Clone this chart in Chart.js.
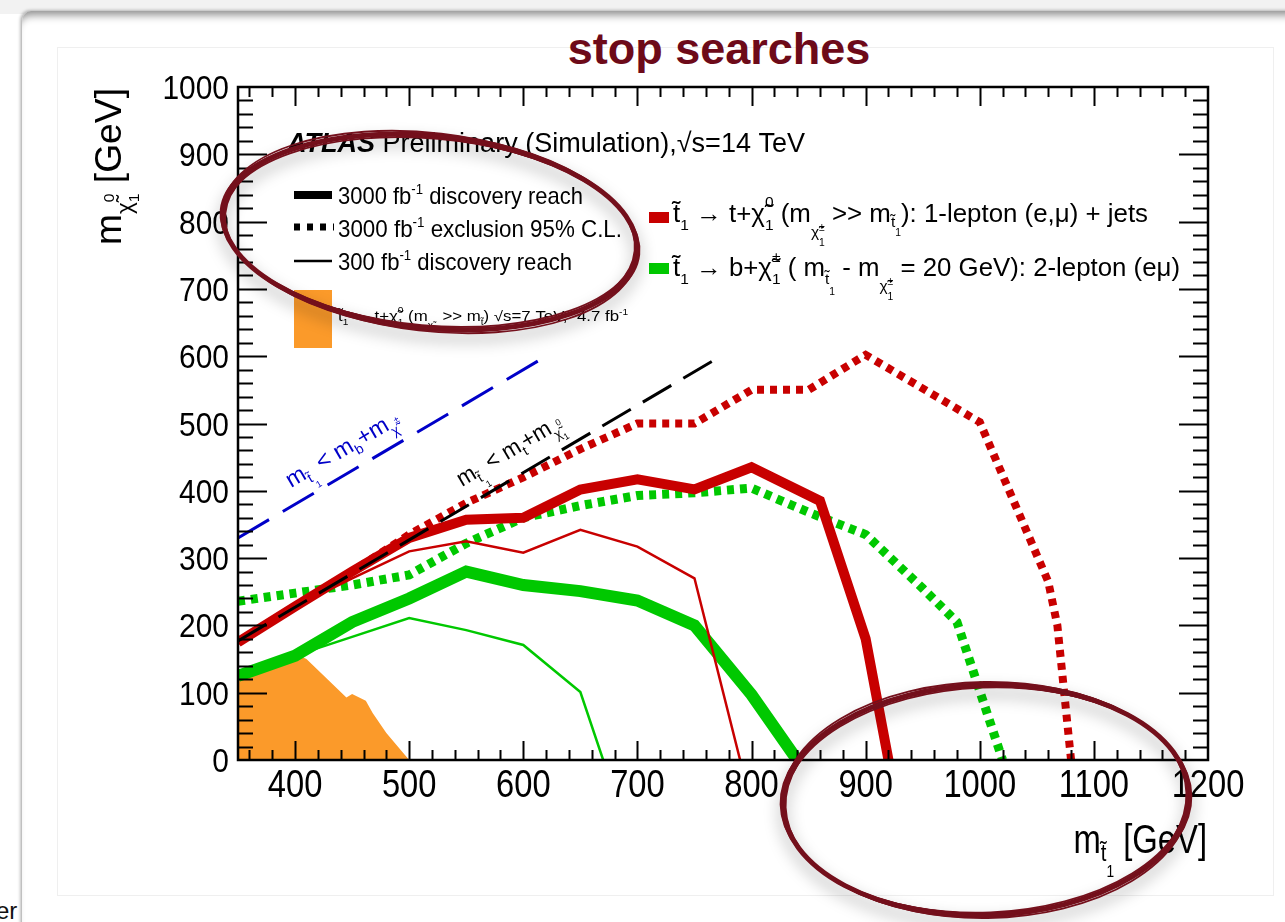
<!DOCTYPE html>
<html lang="en">
<head>
<meta charset="UTF-8">
<title>stop searches</title>
<style>
    * { margin: 0; padding: 0; box-sizing: border-box; }
    body { width: 1285px; height: 922px; overflow: hidden; position: relative; background: #fff; font-family: 'Liberation Sans', Arial, sans-serif; }
    .topband { position: absolute; left: 0; top: 0; width: 1285px; height: 14px; background: #f2f2f2; }
    .slide { position: absolute; left: 21px; top: 11px; width: 1300px; height: 960px; background: #fff; border-top-left-radius: 10px; border-left: 1px solid #c0c0c0; box-shadow: inset 0 10px 8px -6px rgba(0,0,0,0.45), -1px -1px 3px rgba(0,0,0,0.25); }
    .panel { position: absolute; left: 57px; top: 47px; width: 1217px; height: 849px; border: 1px solid #efefef; background: #fff; }
    .title { position: absolute; left: 0; top: 23px; width: 1438px; text-align: center; font: bold 45px 'Liberation Sans', Arial, sans-serif; color: #6d0a19; }
    .cut { position: absolute; left: -4px; top: 897px; font-size: 24px; color: #111; }
    #chart { position: absolute; left: 0; top: 0; }
</style>
</head>
<body>
    <div class="topband"></div>
    <div class="slide"></div>
    <div class="panel"></div>
    <div class="title">stop searches</div>
    <div class="cut">er</div>
    <canvas id="chart" width="1285" height="922"></canvas>

    <script src="https://cdn.jsdelivr.net/npm/chart.js@4.4.1/dist/chart.umd.min.js"></script>
    <script>
        // stop mass (GeV) and LSP / chargino mass (GeV) for every contour
        const redDiscStop = [350, 400, 450, 500, 550, 600, 650, 700, 750, 800, 860, 900, 920];
        const redDiscLsp  = [175, 228, 280, 330, 357, 360, 402, 417, 402, 435, 385, 180, 0];

        const redExclStop = [350, 400, 450, 500, 550, 600, 650, 700, 750, 800, 850, 900, 1000, 1060, 1068, 1080];
        const redExclLsp  = [175, 228, 280, 335, 382, 420, 462, 500, 500, 550, 550, 602, 502, 265, 200, 0];

        const redLowStop = [350, 400, 450, 500, 550, 600, 650, 700, 750, 790];
        const redLowLsp  = [175, 228, 270, 310, 325, 308, 342, 317, 270, 0];

        const greenDiscStop = [350, 400, 450, 500, 550, 600, 650, 700, 750, 800, 840];
        const greenDiscLsp  = [125, 155, 205, 240, 280, 260, 251, 237, 200, 97, 0];

        const greenExclStop = [350, 400, 450, 500, 550, 600, 650, 700, 750, 800, 850, 900, 950, 980, 1020];
        const greenExclLsp  = [236, 248, 260, 275, 322, 360, 378, 393, 397, 404, 368, 335, 255, 205, 0];

        const greenLowStop = [350, 400, 450, 500, 550, 600, 650, 670];
        const greenLowLsp  = [125, 155, 183, 211, 193, 171, 101, 0];

        // 7 TeV, 4.7 fb-1 excluded region
        const limitStop = [350, 400, 410, 445, 450, 462, 468, 480, 500];
        const limitLsp  = [122, 158, 150, 93, 98, 88, 70, 40, 0];

        // kinematic boundaries
        const topLineStop = [350, 773];
        const topLineLsp  = [177, 600];
        const bLineStop = [350, 622];
        const bLineLsp  = [330, 602];

        const xTickLabels = ['400', '500', '600', '700', '800', '900', '1000', '1100', '1200'];
        const yTickLabels = ['0', '100', '200', '300', '400', '500', '600', '700', '800', '900', '1000'];

        const RED = '#c80000', GREEN = '#00c800', ORANGE = '#fb9a2a', BLUE = '#0000c8';
        const FAMILY = "'Liberation Sans', Arial, sans-serif";

        const pts = (xs, ys) => xs.map((x, i) => ({ x: x, y: ys[i] }));

        function curve(data, color, width, dash, order) {
            return {
                data: data, showLine: true, pointRadius: 0, fill: false,
                borderColor: color, borderWidth: width, borderDash: dash || [],
                borderJoinStyle: 'miter', borderCapStyle: 'butt', order: order
            };
        }

        const datasets = [
            curve(pts(bLineStop, bLineLsp), BLUE, 3, [36, 16], 0),
            curve(pts(topLineStop, topLineLsp), '#000', 3, [33, 14], 1),
            curve(pts(redDiscStop, redDiscLsp), RED, 10, null, 2),
            curve(pts(redLowStop, redLowLsp), RED, 2.5, null, 3),
            curve(pts(redExclStop, redExclLsp), RED, 8, [7, 6], 4),
            curve(pts(greenDiscStop, greenDiscLsp), GREEN, 12, null, 5),
            curve(pts(greenLowStop, greenLowLsp), GREEN, 2.5, null, 6),
            curve(pts(greenExclStop, greenExclLsp), GREEN, 9, [7, 6], 7),
            {
                data: pts(limitStop, limitLsp), showLine: true, pointRadius: 0,
                borderWidth: 0, borderColor: ORANGE, backgroundColor: ORANGE,
                fill: 'origin', order: 8
            }
        ];

        // small rich-text helper: pieces with size factor, baseline shift and stacking
        function layoutRich(ctx, parts, size) {
            let x = 0, prevStart = 0, prevEnd = 0;
            const out = [];
            for (const p of parts) {
                const s = size * (p.s || 1);
                const font = (p.f || '') + ' ' + s + 'px ' + FAMILY;
                ctx.font = font;
                const w = ctx.measureText(p.t).width;
                const start = p.stack ? prevStart : x;
                out.push({ t: p.t, font: font, x: start, dy: (p.dy || 0) * size });
                if (p.stack) {
                    x = Math.max(prevEnd, start + w);
                } else {
                    prevStart = start;
                    x = start + w;
                }
                prevEnd = x;
            }
            return { out: out, width: x };
        }

        function drawRich(ctx, parts, o) {
            const lay = layoutRich(ctx, parts, o.size);
            const sx = o.width ? o.width / lay.width : (o.sx || 1);
            const w = lay.width * sx;
            const x0 = o.align === 'right' ? -w : o.align === 'center' ? -w / 2 : 0;
            ctx.save();
            ctx.translate(o.x, o.y);
            if (o.angle) ctx.rotate(o.angle);
            ctx.translate(x0, 0);
            ctx.scale(sx, 1);
            ctx.fillStyle = o.color || '#000';
            ctx.textAlign = 'left';
            ctx.textBaseline = 'alphabetic';
            for (const g of lay.out) {
                ctx.font = g.font;
                ctx.fillText(g.t, g.x, g.dy);
            }
            ctx.restore();
        }

        const T = (t, opts) => Object.assign({ t: t }, opts || {});
        const TILDE_T = 't\u0303', CHI = '\u03c7\u0303';

        // ROOT style frame: ticks inside on all four sides, labels outside
        const rootFrame = {
            id: 'rootFrame',
            afterDatasetsDraw(chart) {
                const { ctx, chartArea: a, scales: { x, y } } = chart;
                ctx.save();
                ctx.strokeStyle = '#000';
                ctx.lineWidth = 2;
                ctx.beginPath();
                for (let v = 360; v < 1200; v += 20) {
                    const px = Math.round(x.getPixelForValue(v)) + 0.5;
                    const len = v % 100 === 0 ? 19 : 10;
                    ctx.moveTo(px, a.bottom); ctx.lineTo(px, a.bottom - len);
                    ctx.moveTo(px, a.top); ctx.lineTo(px, a.top + len);
                }
                for (let v = 20; v < 1000; v += 20) {
                    const py = Math.round(y.getPixelForValue(v)) + 0.5;
                    const len = v % 100 === 0 ? 29 : 15;
                    ctx.moveTo(a.left, py); ctx.lineTo(a.left + len, py);
                    ctx.moveTo(a.right, py); ctx.lineTo(a.right - len, py);
                }
                ctx.stroke();
                ctx.lineWidth = 2.5;
                ctx.strokeRect(a.left, a.top, a.right - a.left, a.bottom - a.top);
                ctx.restore();

                xTickLabels.forEach(lbl => {
                    drawRich(ctx, [T(lbl)], { x: x.getPixelForValue(+lbl), y: 797, size: 38, sx: 0.86, align: 'center' });
                });
                yTickLabels.forEach(lbl => {
                    drawRich(ctx, [T(lbl)], { x: 229, y: y.getPixelForValue(+lbl) + 12, size: 34, sx: 0.88, align: 'right' });
                });

                // axis titles
                drawRich(ctx, [T('m'), T(TILDE_T, { s: 0.62, dy: 0.2 }), T('1', { s: 0.42, dy: 0.6 }), T(' [GeV]')],
                    { x: 1207, y: 853, size: 40, sx: 0.82, align: 'right' });
                drawRich(ctx, [T('m'), T(CHI, { s: 0.6, dy: 0.3 }), T('0', { s: 0.42, dy: -0.2 }),
                    T('1', { s: 0.42, dy: 0.5, stack: true }), T(' [GeV]')],
                    { x: 121, y: 245, size: 36, width: 157, angle: -Math.PI / 2 });
            }
        };

        // pen-drawn ring: a wide shadowed stroke plus a few loose passes
        function handEllipse(ctx, cx, cy, rx, ry, rot) {
            ctx.save();
            ctx.strokeStyle = '#74101c';
            ctx.shadowColor = 'rgba(0,0,0,0.4)';
            ctx.shadowBlur = 16;
            ctx.shadowOffsetY = 8;
            ctx.lineWidth = 5;
            ctx.beginPath();
            ctx.ellipse(cx, cy, rx, ry, rot, 0, Math.PI * 2);
            ctx.stroke();
            ctx.shadowColor = 'transparent';
            ctx.lineWidth = 1.8;
            [[2.5, -1.5, 0.008], [-2.5, 2, -0.008], [1, 3, 0.015], [-1, -2.5, -0.012]].forEach(j => {
                ctx.beginPath();
                ctx.ellipse(cx, cy, rx + j[0], ry + j[1], rot + j[2], 0, Math.PI * 2);
                ctx.stroke();
            });
            ctx.restore();
        }

        // legends, curve labels and the highlight rings
        const annotations = {
            id: 'annotations',
            afterDraw(chart) {
                const ctx = chart.ctx;

                drawRich(ctx, [T('ATLAS', { f: 'bold italic' }), T(' Preliminary (Simulation),'), T('\u221as=14 TeV')],
                    { x: 287, y: 152, size: 27, width: 518 });

                ctx.save();
                ctx.strokeStyle = '#000';
                ctx.lineWidth = 8;
                ctx.beginPath(); ctx.moveTo(294, 195); ctx.lineTo(332, 195); ctx.stroke();
                ctx.lineWidth = 7;
                ctx.setLineDash([6, 7]);
                ctx.beginPath(); ctx.moveTo(294, 227); ctx.lineTo(334, 227); ctx.stroke();
                ctx.setLineDash([]);
                ctx.lineWidth = 2.5;
                ctx.beginPath(); ctx.moveTo(294, 261); ctx.lineTo(332, 261); ctx.stroke();
                ctx.fillStyle = ORANGE;
                ctx.fillRect(294, 290, 38, 58);
                ctx.fillStyle = RED;
                ctx.fillRect(649, 212, 20, 11);
                ctx.fillStyle = GREEN;
                ctx.fillRect(649, 263, 20, 11);
                ctx.restore();

                const sup1 = T('-1', { s: 0.6, dy: -0.42 });
                drawRich(ctx, [T('3000 fb'), sup1, T(' discovery reach')], { x: 338, y: 204, size: 24, width: 245 });
                drawRich(ctx, [T('3000 fb'), sup1, T(' exclusion 95% C.L.')], { x: 338, y: 237, size: 24, width: 284 });
                drawRich(ctx, [T('300 fb'), sup1, T(' discovery reach')], { x: 338, y: 270, size: 24, width: 234 });

                drawRich(ctx, [T(TILDE_T), T('1', { s: 0.6, dy: 0.3 }), T(' \u2192 t+' + CHI), T('0', { s: 0.6, dy: -0.55 }),
                    T('1', { s: 0.6, dy: 0.3, stack: true }), T(' (m'), T(CHI, { s: 0.6, dy: 0.5 }), T('  >> m'),
                    T(TILDE_T, { s: 0.6, dy: 0.3 }), T(') \u221as=7 TeV,  4.7 fb'), T('-1', { s: 0.6, dy: -0.4 })],
                    { x: 338, y: 321, size: 14, width: 290 });

                drawRich(ctx, [T(TILDE_T), T('1', { s: 0.6, dy: 0.3 }), T(' \u2192 t+' + CHI), T('0', { s: 0.6, dy: -0.6 }),
                    T('1', { s: 0.6, dy: 0.3, stack: true }), T(' (m'), T(CHI, { s: 0.6, dy: 0.6 }),
                    T('\u00b1', { s: 0.4, dy: 0.35 }), T('1', { s: 0.4, dy: 0.95, stack: true }), T(' >> m'),
                    T(TILDE_T, { s: 0.6, dy: 0.2 }), T('1', { s: 0.4, dy: 0.55 }), T('): 1-lepton (e,\u03bc) + jets')],
                    { x: 673, y: 222, size: 25, width: 475 });
                drawRich(ctx, [T(TILDE_T), T('1', { s: 0.6, dy: 0.3 }), T(' \u2192 b+' + CHI), T('\u00b1', { s: 0.6, dy: -0.55 }),
                    T('1', { s: 0.6, dy: 0.3, stack: true }), T(' ( m'), T(TILDE_T, { s: 0.6, dy: 0.3 }),
                    T('1', { s: 0.4, dy: 0.75 }), T(' - m'), T(CHI, { s: 0.6, dy: 0.6 }), T('\u00b1', { s: 0.4, dy: 0.35 }),
                    T('1', { s: 0.4, dy: 0.95, stack: true }), T(' = 20 GeV): 2-lepton (e\u03bc)')],
                    { x: 673, y: 276, size: 25, width: 507 });

                drawRich(ctx, [T('m'), T(TILDE_T, { s: 0.6, dy: 0.25 }), T('1', { s: 0.4, dy: 0.6 }), T(' < m'),
                    T('b', { s: 0.6, dy: 0.25 }), T('+m'), T(CHI, { s: 0.6, dy: 0.35 }), T('\u00b1', { s: 0.4, dy: -0.1 })],
                    { x: 291, y: 488, size: 23, width: 128, angle: -0.534, color: BLUE });
                drawRich(ctx, [T('m'), T(TILDE_T, { s: 0.6, dy: 0.25 }), T('1', { s: 0.4, dy: 0.6 }), T(' < m'),
                    T('t', { s: 0.6, dy: 0.25 }), T('+m'), T(CHI, { s: 0.6, dy: 0.35 }), T('0', { s: 0.4, dy: -0.15 }),
                    T('1', { s: 0.4, dy: 0.55, stack: true })],
                    { x: 462, y: 487, size: 23, width: 118, angle: -0.536 });

                handEllipse(ctx, 430, 232, 208, 96, 0.1);
                handEllipse(ctx, 986, 800, 203, 115, -0.03);
            }
        };

        new Chart(document.getElementById('chart'), {
            type: 'scatter',
            data: { datasets: datasets },
            options: {
                responsive: false,
                animation: false,
                devicePixelRatio: 1,
                layout: { padding: { left: 238, top: 87, right: 77, bottom: 162 } },
                plugins: { legend: { display: false }, tooltip: { enabled: false } },
                scales: {
                    x: { type: 'linear', min: 350, max: 1200, display: false },
                    y: { type: 'linear', min: 0, max: 1000, display: false }
                }
            },
            plugins: [rootFrame, annotations]
        });
    </script>
</body>
</html>
